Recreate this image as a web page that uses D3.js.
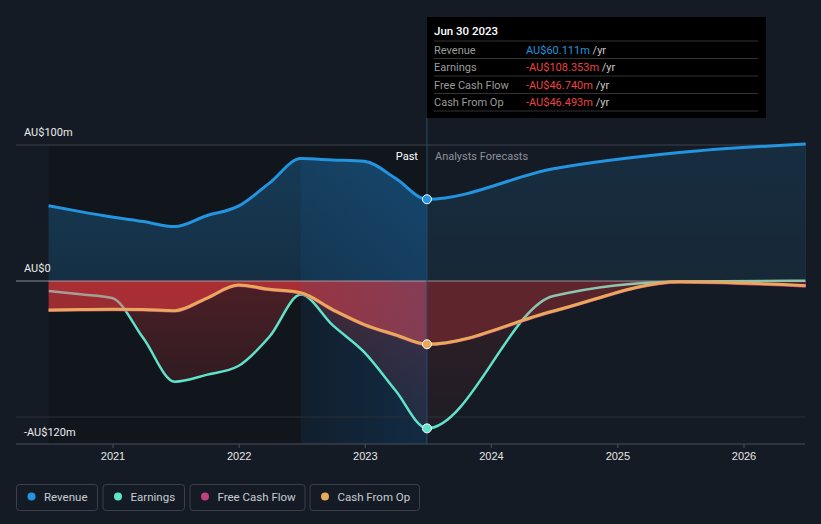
<!DOCTYPE html>
<html><head><meta charset="utf-8">
<script src="https://cdn.jsdelivr.net/npm/d3@7"></script>
<style>
html,body{margin:0;padding:0;background:#151b24;}
svg{display:block;font-family:Roboto,"Noto Sans",sans-serif;}
</style></head>
<body>
<svg id="chart" width="821" height="524"></svg>
<script>
// ---- data ----
const dates = ["2020-06-30","2020-09-30","2020-12-31","2021-03-31","2021-06-30","2021-09-30","2021-12-31","2022-03-31","2022-06-30","2022-09-30","2022-12-31","2023-03-31","2023-06-30","2024-06-30","2025-06-30","2026-06-30"];
const revenue      = [55.4,51,47,43.7,40,48,55,72,90,89,88,75.5,60.111,82.5,94.5,100.7];
const earnings     = [-7.4,-9.8,-12.5,-42,-74,-69,-62.5,-41,-10,-32.5,-52.5,-80.5,-108.353,-11,-0.3,0.2];
const cashFromOp   = [-21.3,-21,-20.8,-21,-21.8,-12.7,-3,-6.1,-8.6,-21,-32,-39.5,-46.493,-22,-0.6,-3.4];
const freeCashFlow = [-21.6,-21.3,-21.1,-21.3,-22.1,-13,-3.4,-6.5,-9,-21.4,-32.4,-39.9,-46.74,-22.4,-0.9,-3.8];
const yTickValues = [100, 0, -100];
const yTickLabels = ["AU$100m", "AU$0", "-AU$120m"];
const xTickYears = [2021, 2022, 2023, 2024, 2025, 2026];
const seriesNames = ["Revenue", "Earnings", "Free Cash Flow", "Cash From Op"];
const seriesColors = ["#2394df", "#5fe3cb", "#c2407f", "#e9a95a"];
const tooltipDate = "Jun 30 2023";
const highlightIndex = 12;     // Jun 30 2023
const bandStartIndex = 8;      // Jun 30 2022

// ---- setup ----
const parse = d3.timeParse("%Y-%m-%d");
const D = dates.map(parse);
const svg = d3.select("#chart");
const x = d3.scaleTime().domain([new Date(2021,0,1), new Date(2026,0,1)]).range([112.5, 743.5]);
const y = d3.scaleLinear().domain([-100, 100]).range([417, 145]);
const plotL = 16, plotR = 805, axisY = 444, topY = 145;
const x0 = x(D[0]);
const xNow = x(D[highlightIndex]), xBand = x(D[bandStartIndex]);
const rows = D.map((d,i)=>({d, rev:revenue[i], earn:earnings[i], cfo:cashFromOp[i], fcf:freeCashFlow[i]}));
const curve = d3.curveMonotoneX;

const defs = svg.append("defs");
const gRev = defs.append("linearGradient").attr("id","gRev").attr("gradientUnits","userSpaceOnUse")
  .attr("x1",0).attr("x2",0).attr("y1",y(100)).attr("y2",y(0));
gRev.append("stop").attr("offset",0).attr("stop-color","#2394df").attr("stop-opacity",0.3);
gRev.append("stop").attr("offset",1).attr("stop-color","#2394df").attr("stop-opacity",0.2);
const gEarn = defs.append("linearGradient").attr("id","gEarn").attr("gradientUnits","userSpaceOnUse")
  .attr("x1",0).attr("x2",0).attr("y1",y(0)).attr("y2",y(-100));
gEarn.append("stop").attr("offset",0).attr("stop-color","#c83439").attr("stop-opacity",0.32);
gEarn.append("stop").attr("offset",1).attr("stop-color","#c83439").attr("stop-opacity",0.12);
const gBand = defs.append("linearGradient").attr("id","gBand").attr("gradientUnits","userSpaceOnUse")
  .attr("x1",xBand).attr("x2",xNow).attr("y1",0).attr("y2",0);
gBand.append("stop").attr("offset",0).attr("stop-color","#146ebe").attr("stop-opacity",0.1);
gBand.append("stop").attr("offset",1).attr("stop-color","#146ebe").attr("stop-opacity",0.24);
const gGray = defs.append("linearGradient").attr("id","gGray").attr("gradientUnits","userSpaceOnUse")
  .attr("x1",plotL).attr("x2",plotR).attr("y1",0).attr("y2",0);
const off = (xNow-plotL)/(plotR-plotL);
gGray.append("stop").attr("offset",off).attr("stop-color","#a59d96");
gGray.append("stop").attr("offset",off).attr("stop-color","#8ec5b1");

const cfoLine = d3.line().x(d=>x(d.d)).y(d=>y(d.cfo)).curve(curve);
defs.append("clipPath").attr("id","aboveCfo").append("path")
  .attr("d", d3.area().x(d=>x(d.d)).y0(0).y1(d=>y(d.cfo)).curve(curve)(rows));
defs.append("clipPath").attr("id","belowCfo").append("path")
  .attr("d", d3.area().x(d=>x(d.d)).y0(524).y1(d=>y(d.cfo)).curve(curve)(rows));
defs.append("clipPath").attr("id","belowRev").append("path")
  .attr("d", d3.area().x(d=>x(d.d)).y0(axisY).y1(d=>y(d.rev)).curve(curve)(rows));

// past dark region
svg.append("rect").attr("x",x0).attr("y",topY).attr("width",xNow-x0).attr("height",axisY-topY)
  .attr("fill","#000").attr("opacity",0.17);

// fills
svg.append("path").attr("fill","url(#gRev)")
  .attr("d", d3.area().x(d=>x(d.d)).y0(y(0)).y1(d=>y(d.rev)).curve(curve)(rows));
svg.append("path").attr("fill","url(#gEarn)")
  .attr("d", d3.area().x(d=>x(d.d)).y0(y(0)).y1(d=>y(d.earn)).curve(curve)(rows));
svg.append("path").attr("fill","#c83439").attr("fill-opacity",0.75)
  .attr("d", d3.area().x(d=>x(d.d)).y0(y(0)).y1(d=>y(d.cfo)).curve(curve)(rows));

// band (last year) highlight
svg.append("rect").attr("x",xBand).attr("y",topY).attr("width",xNow-xBand).attr("height",axisY-topY)
  .attr("fill","url(#gBand)").attr("clip-path","url(#belowRev)");
// forecast dimming
svg.append("rect").attr("x",xNow).attr("y",topY).attr("width",plotR-xNow).attr("height",axisY-topY)
  .attr("fill","#151b24").attr("opacity",0.5);

// gridlines
svg.append("line").attr("x1",plotL).attr("x2",plotR).attr("y1",y(100)).attr("y2",y(100)).attr("stroke","#3d434c");
svg.append("line").attr("x1",plotL).attr("x2",plotR).attr("y1",y(-100)).attr("y2",y(-100)).attr("stroke","#2a3039");
svg.append("line").attr("x1",plotL).attr("x2",plotR).attr("y1",y(0)).attr("y2",y(0))
  .attr("stroke","#d7d7d7").attr("stroke-opacity",0.6);

// vertical now line
svg.append("line").attr("x1",xNow).attr("x2",xNow).attr("y1",118).attr("y2",axisY)
  .attr("stroke","#2b4a68").attr("stroke-width",1);

// x axis
const xAxis = d3.axisBottom(x).tickValues(xTickYears.map(yr=>new Date(yr,0,1)))
  .tickFormat(d3.timeFormat("%Y")).tickSize(4).tickSizeOuter(0);
const gx = svg.append("g").attr("transform",`translate(0,${axisY})`).call(xAxis);
gx.select(".domain").remove();
gx.selectAll(".tick line").attr("stroke","#4a505a");
gx.selectAll(".tick text").attr("fill","#e6e6e6").attr("font-size",11).attr("font-weight",500)
  .attr("dy","0.9em").attr("y",6);
svg.append("line").attr("x1",plotL).attr("x2",plotR).attr("y1",axisY).attr("y2",axisY).attr("stroke","#4a505a");

// y labels
const yLabY = [y(100)-9, y(0)-9, y(-100)+19];
svg.selectAll(".ylab").data(yTickValues).enter().append("text")
  .attr("x",24).attr("y",(d,i)=>yLabY[i]).attr("fill","#ececec").attr("font-size",11)
  .text((d,i)=>yTickLabels[i]);

// lines
svg.append("path").attr("fill","none").attr("stroke",seriesColors[0]).attr("stroke-width",3)
  .attr("d", d3.line().x(d=>x(d.d)).y(d=>y(d.rev)).curve(curve)(rows));
const earnPath = d3.line().x(d=>x(d.d)).y(d=>y(d.earn)).curve(curve)(rows);
svg.append("path").attr("fill","none").attr("stroke",seriesColors[1]).attr("stroke-width",2.5)
  .attr("clip-path","url(#belowCfo)").attr("d", earnPath);
svg.append("path").attr("fill","none").attr("stroke","url(#gGray)").attr("stroke-width",2.5)
  .attr("clip-path","url(#aboveCfo)").attr("d", earnPath);
svg.append("path").attr("fill","none").attr("stroke",seriesColors[2]).attr("stroke-width",3)
  .attr("d", d3.line().x(d=>x(d.d)).y(d=>y(d.fcf)).curve(curve)(rows));
svg.append("path").attr("fill","none").attr("stroke",seriesColors[3]).attr("stroke-width",3)
  .attr("d", cfoLine(rows));

// markers
const h = rows[highlightIndex];
[[h.rev,0],[h.cfo,3],[h.earn,1]].forEach(([v,ci])=>{
  svg.append("circle").attr("cx",xNow).attr("cy",y(v)).attr("r",4.5)
    .attr("fill",seriesColors[ci]).attr("stroke","#fff").attr("stroke-width",1);
});

// Past / Forecast labels
svg.append("text").attr("x",xNow-9).attr("y",160).attr("text-anchor","end")
  .attr("fill","#ffffff").attr("font-size",11).text("Past");
svg.append("text").attr("x",xNow+8).attr("y",160)
  .attr("fill","#8b9099").attr("font-size",11).text("Analysts Forecasts");

// tooltip
const tt = svg.append("g");
tt.append("rect").attr("x",427).attr("y",17).attr("width",339).attr("height",101).attr("fill","#000");
tt.append("text").attr("x",434).attr("y",35).attr("fill","#fff").attr("font-size",11.5).attr("font-weight",500).text(tooltipDate);
const fmt = v => (v<0?"-":"") + "AU$" + d3.format(".3f")(Math.abs(v)) + "m";
const ttVals = [h.rev, h.earn, h.fcf, h.cfo];
const rowY = [41, 58.5, 76, 93.5, 111];
rowY.forEach(ry=>tt.append("line").attr("x1",434).attr("x2",758).attr("y1",ry).attr("y2",ry).attr("stroke","#333"));
seriesNames.forEach((nm,i)=>{
  const cy = rowY[i] + 12.5;
  tt.append("text").attr("x",434).attr("y",cy).attr("fill","#9a9a9a").attr("font-size",11).text(nm);
  const t = tt.append("text").attr("x",526).attr("y",cy).attr("font-size",11);
  t.append("tspan").attr("fill", ttVals[i] < 0 ? "#ea4343" : "#2394df").text(fmt(ttVals[i]));
  t.append("tspan").attr("fill","#c8c8c8").text(" /yr");
});

// legend
const legX = [16, 102.5, 189.5, 309.5];
const legW = [81, 81.5, 115, 109.5];
seriesNames.forEach((nm,i)=>{
  const g = svg.append("g").attr("transform",`translate(${legX[i]},484)`);
  g.append("rect").attr("x",0.5).attr("y",0.5).attr("width",legW[i]).attr("height",26).attr("rx",3)
    .attr("fill","none").attr("stroke","#3b414b");
  g.append("circle").attr("cx",15.5).attr("cy",12.5).attr("r",4).attr("fill",seriesColors[i]);
  g.append("text").attr("x",28).attr("y",16.5).attr("fill","#c8ccd2").attr("font-size",11.5).text(nm);
});
</script>
</body></html>
